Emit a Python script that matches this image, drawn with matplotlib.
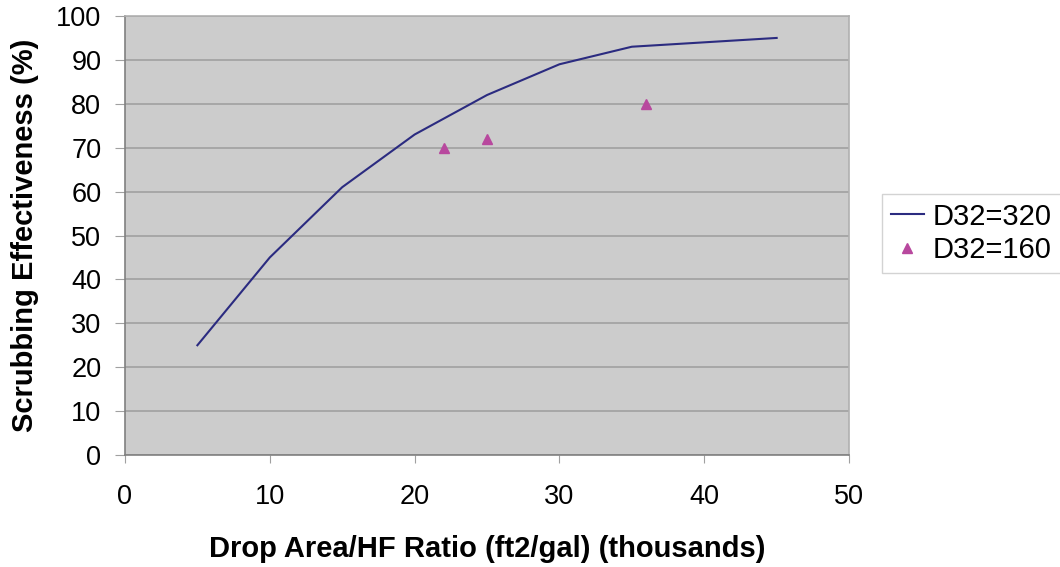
import matplotlib.pyplot as plt

plt.rcParams['font.family'] = ['Liberation Sans', 'DejaVu Sans']

# datos de las dos series
x_320 = [5, 10, 15, 20, 25, 30, 35, 45]
y_320 = [25, 45, 61, 73, 82, 89, 93, 95]
x_160 = [22, 25, 36]
y_160 = [70, 72, 80]

fig = plt.figure(figsize=(10.6, 5.67), dpi=100)
ax = fig.add_axes([0.1179, 0.1975, 0.6831, 0.7743])
ax.set_facecolor('#cccccc')

ax.plot(x_320, y_320, color='#2b2b80', lw=1.5, label='D32=320')
ax.plot(x_160, y_160, ls='none', marker='^', ms=7, color='#b8489e', label='D32=160')

ax.set_xlim(0, 50)
ax.set_ylim(0, 100)
ax.set_xticks(range(0, 51, 10))
ax.set_yticks(range(0, 101, 10))
ax.yaxis.grid(True, color='#a0a0a0', lw=1.2)
ax.set_axisbelow(True)
for s in ax.spines.values():
    s.set_color('#b0b0b0')
    s.set_linewidth(1.2)
ax.spines['left'].set_color('#808080')
ax.spines['bottom'].set_color('#808080')
ax.tick_params(labelsize=19.5, color='#a0a0a0')
ax.tick_params(axis='x', length=6, pad=15)
ax.tick_params(axis='y', length=7, pad=10)

ax.set_xlabel('Drop Area/HF Ratio (ft2/gal) (thousands)', fontsize=21, fontweight='bold', labelpad=18)
ax.set_ylabel('Scrubbing Effectiveness (%)', fontsize=21, fontweight='bold', labelpad=12)

leg = fig.legend(loc='upper left', bbox_to_anchor=(0.832, 0.658), fontsize=21,
                 frameon=True, fancybox=False, edgecolor='#c8c8c8', handlelength=1.15,
                 handletextpad=0.3, borderpad=0.3, labelspacing=0.2, borderaxespad=0)
leg.get_frame().set_linewidth(1.0)

fig.savefig('out.png', dpi=100)
